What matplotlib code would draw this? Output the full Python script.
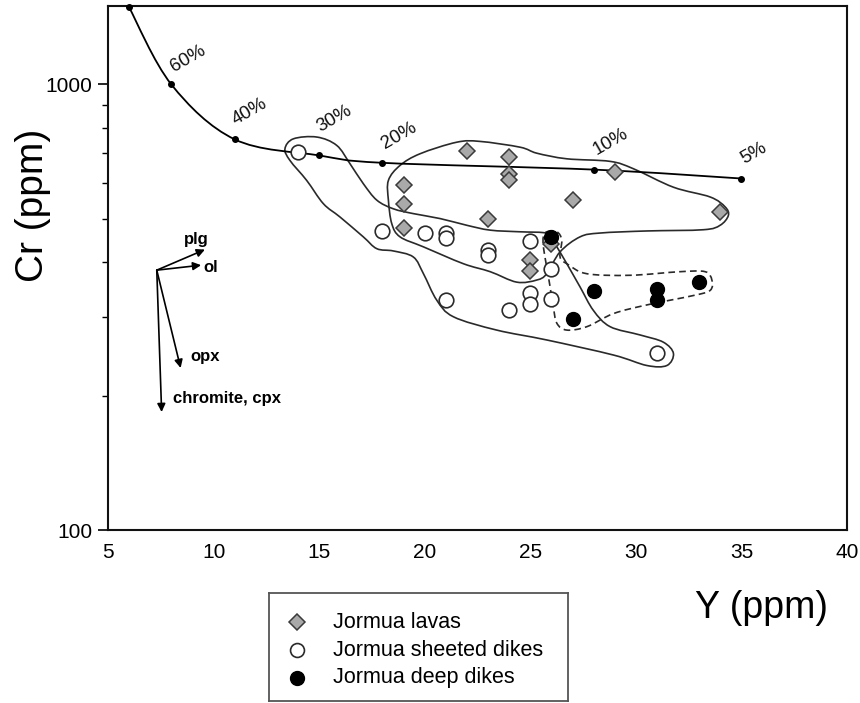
import numpy as np
import matplotlib
matplotlib.use("Agg")
import matplotlib.pyplot as plt
from matplotlib.path import Path
from matplotlib.patches import PathPatch
import matplotlib.ticker as mticker

plt.rcParams['font.family'] = ['Liberation Sans', 'DejaVu Sans']

# ---- data ----
lavas_y = [22, 24, 24, 24, 19, 19, 23, 27, 29, 34, 19, 25, 25, 26]
lavas_cr = [708, 687, 628, 610, 594, 538, 498, 550, 635, 518, 477, 403, 381, 438]

sheeted_y = [14, 18, 20, 21, 21, 23, 23, 25, 26, 21, 24, 25, 25, 26, 31]
sheeted_cr = [705, 469, 465, 465, 453, 425, 414, 446, 385, 328, 311, 341, 321, 330, 249]

deep_y = [26, 28, 31, 31, 33, 27]
deep_cr = [455, 344, 347, 328, 360, 297]

# melting curve
melt_y = [6, 8, 11, 15, 18, 28, 35]
melt_cr = [1490, 1000, 753, 693, 667, 644, 615]
melt_labels = ['60%', '40%', '30%', '20%', '10%', '5%']
melt_label_y = [8.8, 11.7, 15.7, 18.8, 28.8, 35.6]
melt_label_cr = [1142, 867, 837, 769, 742, 699]

# envelopes
lava_env_y = [18.28, 18.83, 19.78, 21.52, 22.62, 24.52, 25.31, 26.73, 28.78, 29.88,
              31.78, 33.52, 34.23, 34.38, 33.99, 33.2, 30.52, 28.31, 27.36, 26.41,
              25.78, 25.31, 24.36, 23.1, 21.83, 19.94, 18.83, 18.44, 18.28]
lava_env_cr = [609, 658, 699, 742, 745, 723, 701, 681, 672, 647,
               588, 559, 531, 508, 483, 472, 469, 464, 455, 421,
               376, 364, 360, 380, 396, 432, 455, 487, 550]

sheet_env_y = [13.38, 13.78, 14.89, 15.83, 16.46, 17.09, 17.73, 18.51, 19.46, 20.73,
               21.99, 23.1, 24.52, 25.62, 25.94, 26.26, 26.73, 27.36, 27.99, 28.78,
               30.2, 31.3, 31.78, 31.47, 30.52, 28.94, 25.78, 23.41, 21.36, 20.57,
               19.94, 19.46, 18.51, 17.73, 17.09, 15.99, 15.2, 14.41, 13.62]
sheet_env_cr = [717, 755, 762, 730, 664, 599, 550, 526, 513, 500,
                483, 471, 467, 465, 458, 432, 396, 351, 311, 286,
                274, 264, 249, 234, 234, 247, 267, 281, 301, 328,
                376, 410, 423, 428, 455, 504, 540, 609, 675]

deep_env_y = [25.78, 26.26, 26.49, 26.41, 26.73, 27.68, 29.73, 32.1, 33.28, 33.6,
              33.52, 32.73, 30.52, 28.94, 27.68, 26.73, 26.26, 26.09, 25.94, 25.78,
              25.62, 25.62]
deep_env_cr = [467, 467, 447, 410, 396, 376, 373, 380, 380, 364,
               345, 336, 320, 306, 286, 281, 291, 317, 351, 389,
               432, 455]

# mineral vectors
vec_origin = (7.31, 383)
vec_names = ['plg', 'ol', 'opx', 'chromite, cpx']
vec_tip_y = [9.59, 9.41, 8.44, 7.54]
vec_tip_cr = [426, 393, 231, 184]
vec_lab_y = [8.6, 9.5, 8.88, 8.06]
vec_lab_cr = [449, 388, 245, 197]

x_ticks = [5, 10, 15, 20, 25, 30, 35, 40]
y_ticks = [100, 1000]
y_minor = [200, 300, 400, 500, 600, 700, 800, 900]


def smooth_path(xs, ys, closed=True):
    P = np.column_stack([np.asarray(xs, float), np.log10(np.asarray(ys, float))])
    n = len(P)
    verts = [P[0]]
    codes = [Path.MOVETO]
    segs = n if closed else n - 1
    for i in range(segs):
        p1 = P[i]
        p2 = P[(i + 1) % n]
        p0 = P[(i - 1) % n] if (closed or i > 0) else P[i]
        p3 = P[(i + 2) % n] if (closed or i + 2 < n) else P[i + 1]
        c1 = p1 + (p2 - p0) / 6.0
        c2 = p2 - (p3 - p1) / 6.0
        verts += [c1, c2, p2]
        codes += [Path.CURVE4] * 3
    V = np.array(verts)
    V[:, 1] = 10 ** V[:, 1]
    return Path(V, codes)


fig = plt.figure(figsize=(8.6, 7.03), dpi=100)
ax = fig.add_axes([108 / 860, 1 - 530 / 703, (847 - 108) / 860, (530 - 6) / 703])
ax.set_yscale('log')
ax.set_xlim(5, 40)
ax.set_ylim(100, 1500)

ax.yaxis.set_major_locator(mticker.FixedLocator(y_ticks))
ax.yaxis.set_major_formatter(mticker.FixedFormatter([str(v) for v in y_ticks]))
ax.yaxis.set_minor_locator(mticker.FixedLocator(y_minor))
ax.yaxis.set_minor_formatter(mticker.NullFormatter())
ax.set_xticks(x_ticks)
ax.set_xticklabels([str(v) for v in x_ticks])
ax.tick_params(axis='y', which='major', direction='out', length=7, width=1.2, labelsize=15, pad=4)
ax.tick_params(axis='y', which='minor', direction='out', length=4, width=1.0)
ax.tick_params(axis='x', which='major', direction='out', length=0, labelsize=15, pad=9)
ax.tick_params(axis='x', which='minor', length=0)
for s in ax.spines.values():
    s.set_linewidth(1.5)
    s.set_color('#111111')

# envelopes
env_kw = dict(fill=False, edgecolor='#2a2a2a', linewidth=1.2, zorder=2)
ax.add_patch(PathPatch(smooth_path(lava_env_y, lava_env_cr), **env_kw))
ax.add_patch(PathPatch(smooth_path(sheet_env_y, sheet_env_cr), **env_kw))
ax.add_patch(PathPatch(smooth_path(deep_env_y, deep_env_cr), fill=False,
                       edgecolor='#2a2a2a', linewidth=1.2, linestyle=(0, (4, 2.5)), zorder=2))

# melting curve
ax.add_patch(PathPatch(smooth_path(melt_y, melt_cr, closed=False), fill=False,
                       edgecolor='black', linewidth=1.3, zorder=3))
ax.plot(melt_y, melt_cr, 'o', color='black', ms=4, zorder=4, clip_on=False)
for t, lx, ly in zip(melt_labels, melt_label_y, melt_label_cr):
    ax.text(lx, ly, t, rotation=30, ha='center', va='center', fontsize=13.5, color='#111111')

# data points
ax.plot(sheeted_y, sheeted_cr, 'o', ms=10.5, mfc='white', mec='#2a2a2a', mew=1.2, ls='none', zorder=5)
ax.plot(lavas_y, lavas_cr, 'D', ms=8.5, mfc='#a9a9a9', mec='#3a3a3a', mew=1.1, ls='none', zorder=6)
ax.plot(deep_y, deep_cr, 'o', ms=10, mfc='black', mec='black', ls='none', zorder=7)

# mineral vectors
for tx, ty in zip(vec_tip_y, vec_tip_cr):
    ax.annotate('', xy=(tx, ty), xytext=vec_origin,
                arrowprops=dict(arrowstyle='-|>', color='black', lw=1.2,
                                mutation_scale=12, shrinkA=0, shrinkB=0))
for name, lx, ly in zip(vec_names, vec_lab_y, vec_lab_cr):
    ax.text(lx, ly, name, ha='left', va='center', fontsize=12, fontweight='bold')

# axis labels
fig.text(33 / 860, 1 - 205 / 703, 'Cr (ppm)', rotation=90, ha='center', va='center', fontsize=28)
fig.text(828 / 860, 1 - 608 / 703, 'Y (ppm)', ha='right', va='center', fontsize=27)

# legend box
lax = fig.add_axes([269 / 860, 2 / 703, 299 / 860, (701 - 593) / 703])
lax.set_xlim(0, 1)
lax.set_ylim(0, 1)
lax.set_xticks([])
lax.set_yticks([])
for s in lax.spines.values():
    s.set_linewidth(1.3)
    s.set_color('#555555')
leg_names = ['Jormua lavas', 'Jormua sheeted dikes', 'Jormua deep dikes']
leg_y = [0.731, 0.472, 0.213]
lax.plot([0.093], [leg_y[0]], 'D', ms=8, mfc='#a9a9a9', mec='#3a3a3a', mew=1.1)
lax.plot([0.093], [leg_y[1]], 'o', ms=10, mfc='white', mec='#2a2a2a', mew=1.2)
lax.plot([0.093], [leg_y[2]], 'o', ms=10, mfc='black', mec='black')
for name, yy in zip(leg_names, leg_y):
    lax.text(0.214, yy, name, ha='left', va='center', fontsize=15.5)

fig.savefig('out.png', dpi=100)
